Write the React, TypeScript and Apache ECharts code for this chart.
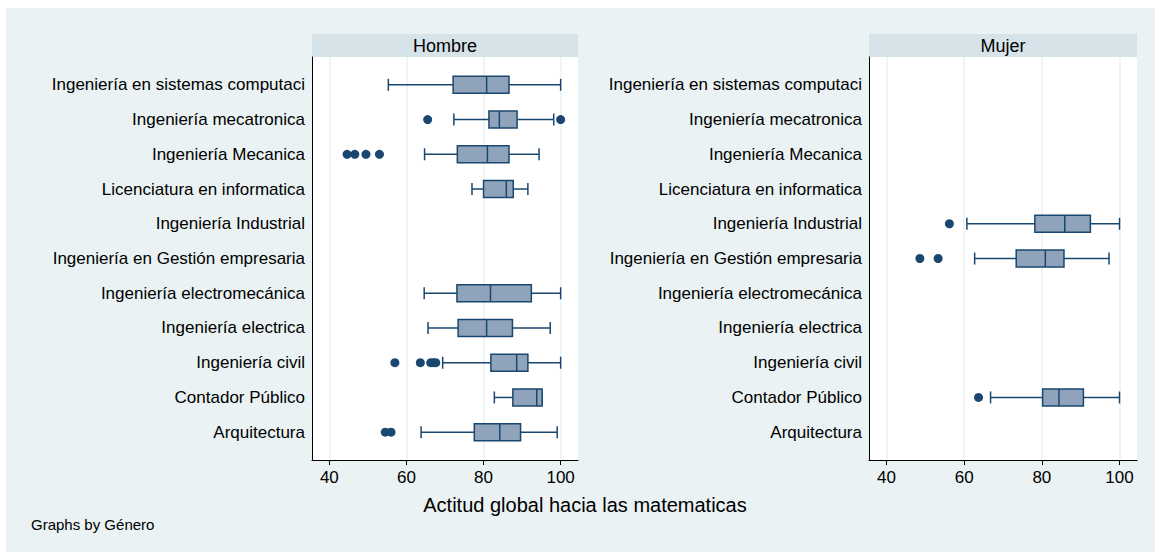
import React, { useEffect, useRef } from "react";
import * as echarts from "echarts";

const categories = [
  "Ingeniería en sistemas computaci",
  "Ingeniería mecatronica",
  "Ingeniería Mecanica",
  "Licenciatura en informatica",
  "Ingeniería Industrial",
  "Ingeniería en Gestión empresaria",
  "Ingeniería electromecánica",
  "Ingeniería electrica",
  "Ingeniería civil",
  "Contador Público",
  "Arquitectura",
];

// [low whisker, Q1, median, Q3, high whisker] per category (null = no data)
const hombreBoxes: (number[] | null)[] = [
  [55.3, 72.1, 80.8, 86.6, 100],
  [72.3, 81.4, 84.1, 88.7, 98.2],
  [64.7, 73.2, 81.0, 86.6, 94.4],
  [77.0, 80.0, 85.9, 87.7, 91.5],
  null,
  null,
  [64.6, 73.1, 81.8, 92.4, 100],
  [65.6, 73.4, 80.8, 87.5, 97.3],
  [69.4, 81.9, 88.6, 91.5, 100],
  [82.8, 87.6, 93.8, 95.2, 95.2],
  [63.8, 77.6, 84.2, 89.6, 99.1],
];

const mujerBoxes: (number[] | null)[] = [
  null,
  null,
  null,
  null,
  [60.7, 78.2, 85.9, 92.5, 100],
  [62.7, 73.4, 80.9, 85.7, 97.3],
  null,
  null,
  null,
  [66.8, 80.2, 84.4, 90.7, 100],
  null,
];

// [value, category index]
const hombreOutliers: number[][] = [
  [65.5, 1], [100, 1],
  [44.6, 2], [46.6, 2], [49.5, 2], [53.0, 2],
  [57.0, 8], [63.6, 8], [66.3, 8], [67.0, 8], [67.6, 8],
  [54.5, 10], [56.0, 10],
];

const mujerOutliers: number[][] = [
  [56.2, 4],
  [48.6, 5], [53.3, 5],
  [63.7, 9],
];

const panelTitles = ["Hombre", "Mujer"];
const xTicks = [40, 60, 80, 100];
const yTicks = categories.map((_, i) => i);

const FONT = "'Liberation Sans', Arial, sans-serif";
const NAVY = "#1A476F";
const BOXFILL = "#8FA4BA";
const BG = "#EAF2F3";
const STRIP = "#D6E3E9";
const GRIDLINE = "#EAF1F3";

function boxData(boxes: (number[] | null)[]) {
  const out: number[][] = [];
  boxes.forEach((b, i) => {
    if (b) out.push([i, ...b]);
  });
  return out;
}

function renderBox(params: any, api: any) {
  const idx = api.value(0);
  const lo = api.value(1);
  const q1 = api.value(2);
  const md = api.value(3);
  const q3 = api.value(4);
  const hi = api.value(5);
  const y = api.coord([lo, idx])[1];
  const xLo = api.coord([lo, idx])[0];
  const xQ1 = api.coord([q1, idx])[0];
  const xMd = api.coord([md, idx])[0];
  const xQ3 = api.coord([q3, idx])[0];
  const xHi = api.coord([hi, idx])[0];
  const bh = 8.5;
  const ch = 6;
  const ls = { stroke: NAVY, lineWidth: 1.5 };
  const children: any[] = [
    { type: "line", shape: { x1: xLo, y1: y, x2: xQ1, y2: y }, style: ls },
    { type: "line", shape: { x1: xQ3, y1: y, x2: xHi, y2: y }, style: ls },
    { type: "line", shape: { x1: xLo, y1: y - ch, x2: xLo, y2: y + ch }, style: ls },
    { type: "line", shape: { x1: xHi, y1: y - ch, x2: xHi, y2: y + ch }, style: ls },
    {
      type: "rect",
      shape: { x: xQ1, y: y - bh, width: xQ3 - xQ1, height: 2 * bh },
      style: { fill: BOXFILL, stroke: NAVY, lineWidth: 1.5 },
    },
    { type: "line", shape: { x1: xMd, y1: y - bh, x2: xMd, y2: y + bh }, style: ls },
  ];
  return { type: "group", children };
}

export default function App() {
  const ref = useRef<HTMLDivElement>(null);
  useEffect(() => {
    document.body.style.margin = "0";
    if (!ref.current) return;
    const chart = echarts.init(ref.current, null, { renderer: "svg" });

    const grids = [
      { left: 312, top: 57, width: 266, height: 403 },
      { left: 869, top: 57, width: 268, height: 403 },
    ];

    const xAxes = grids.map((_, gi) => ({
      type: "value",
      gridIndex: gi,
      min: 35.5,
      max: 104.5,
      axisLine: { show: true, onZero: false, lineStyle: { color: "#000", width: 1 } },
      axisTick: { show: true, length: 5, customValues: xTicks, lineStyle: { color: "#000" } },
      axisLabel: {
        customValues: xTicks,
        color: "#000",
        fontSize: 17,
        fontFamily: FONT,
        margin: 9,
      },
      splitLine: { show: false },
    }));

    const yAxes = grids.map((_, gi) => ({
      type: "value",
      gridIndex: gi,
      inverse: true,
      min: -0.8,
      max: 10.8,
      axisLine: { show: true, onZero: false, lineStyle: { color: "#000", width: 1 } },
      axisTick: { show: false, customValues: yTicks },
      axisLabel: {
        customValues: yTicks,
        color: "#000",
        fontSize: 17,
        fontFamily: FONT,
        margin: 7,
        formatter: (v: number) => categories[Math.round(v)] ?? "",
      },
      splitLine: { show: false },
    }));

    const gridLines = (gi: number) => ({
      type: "line",
      xAxisIndex: gi,
      yAxisIndex: gi,
      data: [],
      silent: true,
      z: 0,
      markLine: {
        silent: true,
        z: 0,
        symbol: "none",
        label: { show: false },
        lineStyle: { color: GRIDLINE, width: 1.5, type: "solid" },
        data: xTicks.map((v) => ({ xAxis: v })),
      },
    });

    const boxSets = [hombreBoxes, mujerBoxes];
    const outSets = [hombreOutliers, mujerOutliers];

    const series: any[] = [];
    [0, 1].forEach((gi) => {
      series.push(gridLines(gi));
      series.push({
        type: "custom",
        xAxisIndex: gi,
        yAxisIndex: gi,
        renderItem: renderBox,
        encode: { x: [1, 2, 3, 4, 5], y: 0 },
        data: boxData(boxSets[gi]),
        z: 6,
      });
      series.push({
        type: "scatter",
        xAxisIndex: gi,
        yAxisIndex: gi,
        symbol: "circle",
        symbolSize: 9,
        itemStyle: { color: NAVY, opacity: 1 },
        data: outSets[gi],
        z: 7,
      });
    });

    const graphic: any[] = [
      {
        type: "rect",
        z: -10,
        silent: true,
        shape: { x: 6, y: 8, width: 1155, height: 552 },
        style: { fill: BG },
      },
      {
        type: "rect",
        z: -9,
        silent: true,
        shape: { x: 312, y: 57, width: 266, height: 403 },
        style: { fill: "#fff" },
      },
      {
        type: "rect",
        z: -9,
        silent: true,
        shape: { x: 869, y: 57, width: 268, height: 403 },
        style: { fill: "#fff" },
      },
    ];
    grids.forEach((g, gi) => {
      graphic.push({
        type: "rect",
        z: -8,
        silent: true,
        shape: { x: g.left, y: 34, width: g.width, height: 23 },
        style: { fill: STRIP },
      });
      graphic.push({
        type: "text",
        silent: true,
        x: g.left + g.width / 2,
        y: 46,
        style: {
          text: panelTitles[gi],
          fill: "#000",
          font: `18px ${FONT}`,
          align: "center",
          verticalAlign: "middle",
        },
      });
    });
    graphic.push({
      type: "text",
      silent: true,
      x: 585,
      y: 505,
      style: {
        text: "Actitud global hacia las matematicas",
        fill: "#000",
        font: `20px ${FONT}`,
        align: "center",
        verticalAlign: "middle",
      },
    });
    graphic.push({
      type: "text",
      silent: true,
      x: 31,
      y: 524,
      style: {
        text: "Graphs by Género",
        fill: "#000",
        font: `15px ${FONT}`,
        align: "left",
        verticalAlign: "middle",
      },
    });

    chart.setOption({
      animation: false,
      backgroundColor: "#fff",
      grid: grids,
      xAxis: xAxes,
      yAxis: yAxes,
      series,
      graphic,
    });
    return () => chart.dispose();
  }, []);
  return <div ref={ref} style={{ width: 1155, height: 552 }} />;
}
